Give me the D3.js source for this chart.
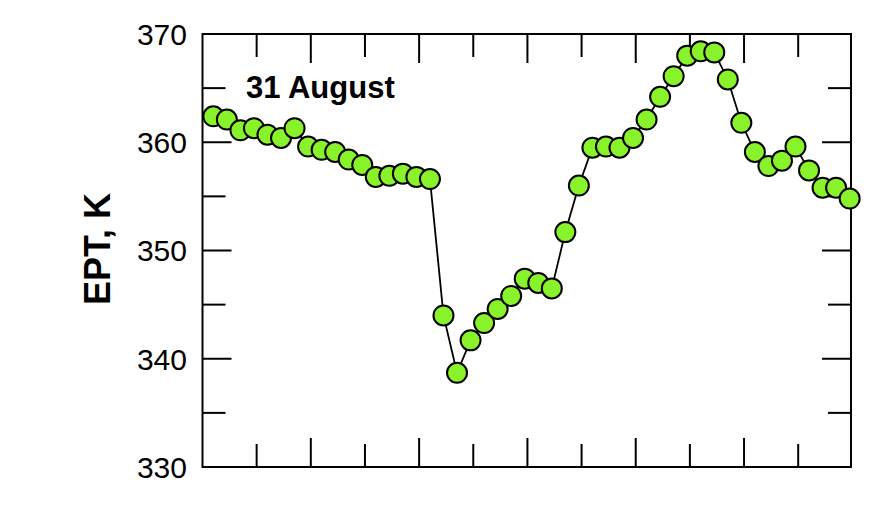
<!DOCTYPE html>
<html>
<head>
<meta charset="utf-8">
<script src="https://cdn.jsdelivr.net/npm/d3@7"></script>
<style>
  html, body { margin: 0; padding: 0; background: #fff; }
  svg { display: block; font-family: "Liberation Sans", Arial, sans-serif; }
</style>
</head>
<body>
<svg id="chart" width="895" height="525"></svg>
<script>
// ---- data ----
const ept = [
  362.4, 362.1, 361.1, 361.3, 360.7, 360.4, 361.3, 359.6, 359.3, 359.1,
  358.4, 357.9, 356.8, 356.9, 357.1, 356.8, 356.6,
  344.0, 338.7, 341.7, 343.3, 344.6, 345.8, 347.4, 347.0, 346.5,
  351.7, 356.0, 359.5, 359.6, 359.5, 360.4, 362.1, 364.2, 366.1,
  368.0, 368.4, 368.3, 365.8, 361.8, 359.1, 357.8, 358.3, 359.6,
  357.4, 355.8, 355.8, 354.8
];
const yTickValues = [330, 340, 350, 360, 370];
const yMinorValues = [335, 345, 355, 365];
const yLabel = "EPT, K";
const annotation = "31 August";

// ---- layout ----
const L = 202.5, R = 851, T = 34, B = 467;
const svg = d3.select("#chart");

const x = d3.scaleLinear().domain([-0.8, 47.1]).range([L, R]);
const y = d3.scaleLinear().domain([330, 370]).range([B, T]);

// x ticks: alternate long/short every 4 samples
const xTicks = d3.range(-0.8 + 4, 47.1, 4).map((v, i) => ({ v, long: i % 2 === 1 }));

const g = svg.append("g");

// frame
g.append("rect").attr("x", L).attr("y", T).attr("width", R - L).attr("height", B - T)
  .attr("fill", "none").attr("stroke", "#000").attr("stroke-width", 2);

// y ticks inside left & right
const yT = yTickValues.map(v => ({ v, long: true })).concat(yMinorValues.map(v => ({ v, long: false })));
yT.forEach(t => {
  const len = t.long ? 29 : 23;
  g.append("line").attr("x1", L).attr("x2", L + len).attr("y1", y(t.v)).attr("y2", y(t.v))
    .attr("stroke", "#000").attr("stroke-width", 2);
  g.append("line").attr("x1", R).attr("x2", R - len).attr("y1", y(t.v)).attr("y2", y(t.v))
    .attr("stroke", "#000").attr("stroke-width", 2);
});

// x ticks inside top & bottom
xTicks.forEach(t => {
  const len = t.long ? 29 : 23;
  g.append("line").attr("x1", x(t.v)).attr("x2", x(t.v)).attr("y1", B).attr("y2", B - len)
    .attr("stroke", "#000").attr("stroke-width", 2);
  g.append("line").attr("x1", x(t.v)).attr("x2", x(t.v)).attr("y1", T).attr("y2", T + len)
    .attr("stroke", "#000").attr("stroke-width", 2);
});

// y tick labels
g.selectAll("text.ytl").data(yTickValues).enter().append("text")
  .attr("class", "ytl")
  .attr("x", 187).attr("y", d => y(d))
  .attr("dy", "0.36em")
  .attr("text-anchor", "end")
  .attr("font-size", 30)
  .attr("fill", "#000")
  .text(d => d);

// y axis label
svg.append("text")
  .attr("transform", `translate(110,249) rotate(-90)`)
  .attr("text-anchor", "middle")
  .attr("font-size", 36)
  .attr("font-weight", "bold")
  .attr("fill", "#000")
  .text(yLabel);

// annotation
svg.append("text")
  .attr("x", 246).attr("y", 98)
  .attr("font-size", 31)
  .attr("font-weight", "bold")
  .attr("fill", "#000")
  .text(annotation);

// line
const line = d3.line().x((d, i) => x(i)).y(d => y(d));
g.append("path").datum(ept).attr("d", line)
  .attr("fill", "none").attr("stroke", "#000").attr("stroke-width", 1.8);

// markers
g.selectAll("circle").data(ept).enter().append("circle")
  .attr("cx", (d, i) => x(i)).attr("cy", d => y(d))
  .attr("r", 10)
  .attr("fill", "#88f22a")
  .attr("stroke", "#000").attr("stroke-width", 2);
</script>
</body>
</html>
